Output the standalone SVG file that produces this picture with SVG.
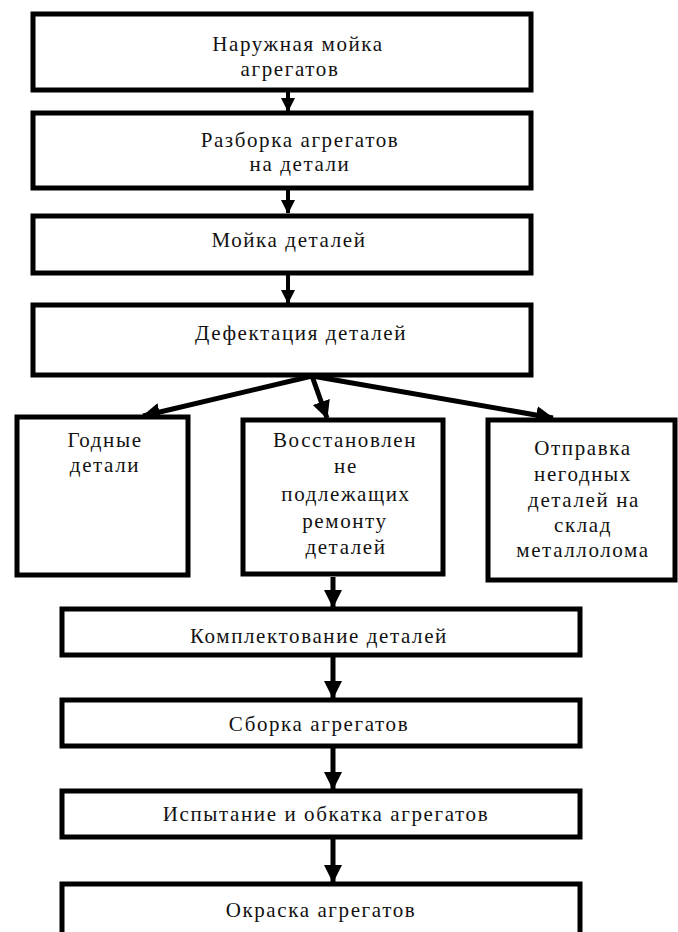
<svg xmlns="http://www.w3.org/2000/svg" width="678" height="932" viewBox="0 0 678 932">
<style>
.box{fill:#fff;stroke:#000;stroke-width:5}
.t{font-family:"Liberation Serif","DejaVu Serif",serif;font-size:21px;fill:#111;text-anchor:middle;letter-spacing:1.6px}
.c{stroke:#000;stroke-width:4;fill:none}
.c2{stroke:#000;stroke-width:5;fill:none}
</style>
<defs>
<marker id="ah" markerUnits="userSpaceOnUse" markerWidth="14" markerHeight="14" refX="13" refY="7" orient="auto">
<path d="M0,0 L14,7 L0,14 z" fill="#000"/>
</marker>
<marker id="ahb" markerUnits="userSpaceOnUse" markerWidth="18" markerHeight="18" refX="17" refY="9" orient="auto">
<path d="M0,0 L18,9 L0,18 z" fill="#000"/>
</marker>
</defs>
<rect width="678" height="932" fill="#fff"/>
<g id="connectors">
<line class="c" x1="288" y1="92" x2="288" y2="111" marker-end="url(#ah)"/>
<line class="c" x1="288" y1="190" x2="288" y2="213" marker-end="url(#ah)"/>
<line class="c" x1="288" y1="275" x2="288" y2="303" marker-end="url(#ah)"/>
<line class="c2" x1="312" y1="376" x2="143" y2="416" marker-end="url(#ahb)"/>
<line class="c2" x1="312" y1="376" x2="327" y2="418" marker-end="url(#ahb)"/>
<line class="c2" x1="312" y1="376" x2="553" y2="418" marker-end="url(#ahb)"/>
<line class="c2" x1="333" y1="577" x2="333" y2="607" marker-end="url(#ahb)"/>
<line class="c2" x1="333" y1="657" x2="333" y2="698" marker-end="url(#ahb)"/>
<line class="c2" x1="333" y1="748" x2="333" y2="789" marker-end="url(#ahb)"/>
<line class="c2" x1="333" y1="839" x2="333" y2="882" marker-end="url(#ahb)"/>
</g>
<g id="n1"><rect class="box" x="33" y="14" width="498" height="76"/>
<text class="t" x="298" y="51">Наружная мойка</text>
<text class="t" x="290" y="76">агрегатов</text></g>
<g id="n2"><rect class="box" x="33" y="113" width="498" height="75"/>
<text class="t" x="300" y="147">Разборка агрегатов</text>
<text class="t" x="300" y="171">на детали</text></g>
<g id="n3"><rect class="box" x="33" y="216" width="498" height="57"/>
<text class="t" x="289" y="247">Мойка деталей</text></g>
<g id="n4"><rect class="box" x="33" y="305" width="498" height="70"/>
<text class="t" x="301" y="340">Дефектация деталей</text></g>
<g id="n5"><rect class="box" x="17" y="417" width="171" height="158"/>
<text class="t" x="105" y="447">Годные</text>
<text class="t" x="105" y="472">детали</text></g>
<g id="n6"><rect class="box" x="243" y="420" width="200" height="154"/>
<text class="t" x="345" y="447">Восстановлен</text>
<text class="t" x="346" y="473">не</text>
<text class="t" x="346" y="501">подлежащих</text>
<text class="t" x="345" y="528">ремонту</text>
<text class="t" x="346" y="554">деталей</text></g>
<g id="n7"><rect class="box" x="488" y="420" width="187" height="160"/>
<text class="t" x="583" y="455">Отправка</text>
<text class="t" x="583" y="481">негодных</text>
<text class="t" x="584" y="507">деталей на</text>
<text class="t" x="583" y="532">склад</text>
<text class="t" x="583" y="557">металлолома</text></g>
<g id="n8"><rect class="box" x="62" y="609" width="518" height="46"/>
<text class="t" x="319" y="643">Комплектование деталей</text></g>
<g id="n9"><rect class="box" x="62" y="700" width="518" height="46"/>
<text class="t" x="319" y="731">Сборка агрегатов</text></g>
<g id="n10"><rect class="box" x="62" y="791" width="518" height="46"/>
<text class="t" x="326" y="821">Испытание и обкатка агрегатов</text></g>
<g id="n11"><rect class="box" x="62" y="884" width="518" height="60"/>
<text class="t" x="321" y="917">Окраска агрегатов</text></g>
</svg>
